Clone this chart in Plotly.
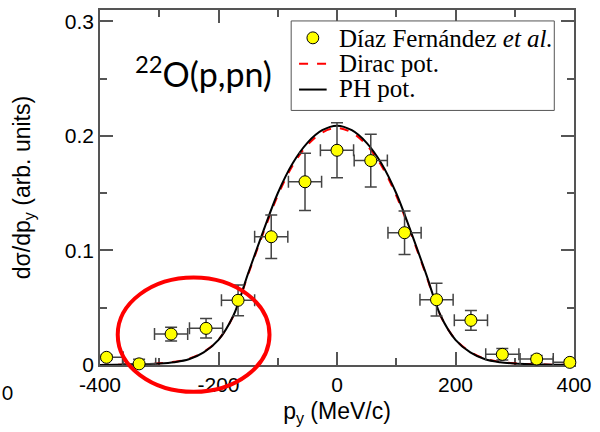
import plotly.graph_objects as go

# Measured momentum distribution (points with error bars)
p_y = [-389, -334, -280, -221, -167, -111, -54, 0, 57, 114, 168, 226, 279, 337, 393]
sigma = [0.0067, 0.001, 0.027, 0.032, 0.0565, 0.112, 0.160, 0.1875, 0.1785,
         0.1155, 0.057, 0.039, 0.0093, 0.0052, 0.0023]
sigma_err = [0.002, 0.004, 0.006, 0.0085, 0.0134, 0.019, 0.025, 0.024, 0.023,
             0.019, 0.0143, 0.0087, 0.005, 0.003, 0.002]
p_err = [28, 28, 28, 28, 28, 28, 28, 28, 28, 28, 28, 28, 28, 28, 28]

# Calculated distributions
p_calc = [-400, -375, -350, -325, -300, -275, -250, -225, -200, -175, -150, -125,
          -100, -75, -50, -25, 0, 25, 50, 75, 100, 125, 150, 175, 200, 225,
          250, 275, 300, 325, 350, 375, 400]
dirac = [0.0001, 0.0002, 0.0004, 0.0008, 0.0015, 0.0028, 0.0055, 0.0115, 0.0222,
         0.0428, 0.0790, 0.1145, 0.148, 0.174, 0.192, 0.203, 0.207, 0.203, 0.192,
         0.174, 0.148, 0.1145, 0.0790, 0.0428, 0.0222, 0.0115, 0.0055, 0.0028,
         0.0015, 0.0008, 0.0004, 0.0002, 0.0001]
ph = [0.0001, 0.0002, 0.0004, 0.0007, 0.0013, 0.0025, 0.005, 0.011, 0.022,
      0.043, 0.080, 0.116, 0.150, 0.176, 0.194, 0.205, 0.209, 0.205, 0.194,
      0.176, 0.150, 0.116, 0.080, 0.043, 0.022, 0.011, 0.005, 0.0025, 0.0013,
      0.0007, 0.0004, 0.0002, 0.0001]

x_ticks = [-400, -200, 0, 200, 400]
y_ticks = [0, 0.1, 0.2, 0.3]
y_tick_text = ["0", "0.1", "0.2", "0.3"]

legend_labels = ["Díaz Fernández <i>et al.</i>", "Dirac pot.", "PH pot."]

AX = "#555555"
W, H = 600, 432
ML, MR, MT, MB = 100, 19, 8, 67
PW, PH_ = W - ML - MR, H - MT - MB


def px(xp):
    """pixel column -> paper x"""
    return (xp - ML) / PW


def py(yp):
    """pixel row -> paper y"""
    return (H - MB - yp) / PH_


fig = go.Figure()

fig.add_trace(go.Scatter(
    x=p_calc, y=dirac, mode="lines", name=legend_labels[1], showlegend=False,
    line=dict(color="#ff0000", width=2, dash="dash", shape="spline"),
))
fig.add_trace(go.Scatter(
    x=p_calc, y=ph, mode="lines", name=legend_labels[2], showlegend=False,
    line=dict(color="#000000", width=2, shape="spline"),
))
# error bars (clipped to the frame)
fig.add_trace(go.Scatter(
    x=p_y, y=sigma, mode="markers", showlegend=False, hoverinfo="skip",
    marker=dict(size=1, color="rgba(0,0,0,0)"),
    error_x=dict(type="data", array=p_err, color="#444444", thickness=1.5, width=6),
    error_y=dict(type="data", array=sigma_err, color="#444444", thickness=1.5, width=6),
))
# data markers drawn over the axes
fig.add_trace(go.Scatter(
    x=p_y, y=sigma, mode="markers", name=legend_labels[0], showlegend=False,
    marker=dict(size=12, color="#ffff00", line=dict(color="#000000", width=1)),
    cliponaxis=False,
))

axis_common = dict(
    showline=True, linecolor=AX, linewidth=1.5, mirror="allticks",
    ticks="inside", tickcolor=AX, tickwidth=1.5, ticklen=13,
    showgrid=False, zeroline=False, layer="below traces",
    tickfont=dict(family="Liberation Sans", size=21, color="#000000"),
)

fig.update_xaxes(
    range=[-400, 400], tickvals=x_ticks, ticktext=[str(v) for v in x_ticks],
    minor=dict(tickvals=[-300, -100, 100, 300], ticks="inside", ticklen=7,
               tickcolor=AX, tickwidth=1.5),
    title=dict(text="p<sub>y</sub> (MeV/c)", standoff=8,
               font=dict(family="Liberation Sans", size=23, color="#000000")),
    **axis_common,
)
fig.update_yaxes(
    range=[0, 0.31], tickvals=y_ticks, ticktext=y_tick_text,
    minor=dict(tickvals=[0.05, 0.15, 0.25], ticks="inside", ticklen=7,
               tickcolor=AX, tickwidth=1.5),
    title=dict(text="dσ/dp<sub>y</sub> (arb. units)", standoff=28,
               font=dict(family="Liberation Sans", size=23, color="#000000")),
    **axis_common,
)

# Legend box with compact rows
fig.add_shape(type="rect", xref="paper", yref="paper",
              x0=px(294), x1=px(561), y0=py(109), y1=py(19),
              line=dict(color=AX, width=1), fillcolor="white", layer="above")
fig.add_shape(type="circle", xref="paper", yref="paper",
              x0=px(310), x1=px(322), y0=py(42), y1=py(30),
              line=dict(color="#000000", width=1), fillcolor="#ffff00", layer="above")
fig.add_shape(type="line", xref="paper", yref="paper",
              x0=px(302), x1=px(330), y0=py(62), y1=py(62),
              line=dict(color="#ff0000", width=2, dash="dash"), layer="above")
fig.add_shape(type="line", xref="paper", yref="paper",
              x0=px(302), x1=px(330), y0=py(88), y1=py(88),
              line=dict(color="#000000", width=2), layer="above")
for label, yrow in zip(legend_labels, [37, 62, 87]):
    fig.add_annotation(
        text=label, xref="paper", yref="paper", x=px(341), y=py(yrow),
        xanchor="left", yanchor="middle", showarrow=False,
        font=dict(family="Liberation Serif", size=25, color="#000000"),
    )

fig.add_annotation(
    text="<sup>22</sup>O(p,pn)", xref="paper", yref="paper",
    x=px(205), y=py(70), xanchor="center", yanchor="middle", showarrow=False,
    font=dict(family="Lato", size=34, color="#000000"),
)
fig.add_annotation(
    text="0", xref="paper", yref="paper", x=px(-1), y=py(393),
    xanchor="left", yanchor="middle", showarrow=False,
    font=dict(family="Lato", size=19, color="#000000"),
)

fig.add_shape(
    type="circle", xref="paper", yref="paper",
    x0=px(118), x1=px(272), y0=py(392), y1=py(277),
    line=dict(color="#ff0000", width=4), layer="above",
)

fig.update_layout(
    width=W, height=H,
    margin=dict(l=ML, r=MR, t=MT, b=MB),
    paper_bgcolor="white", plot_bgcolor="white",
    showlegend=False,
)

fig.write_html("out.html")
